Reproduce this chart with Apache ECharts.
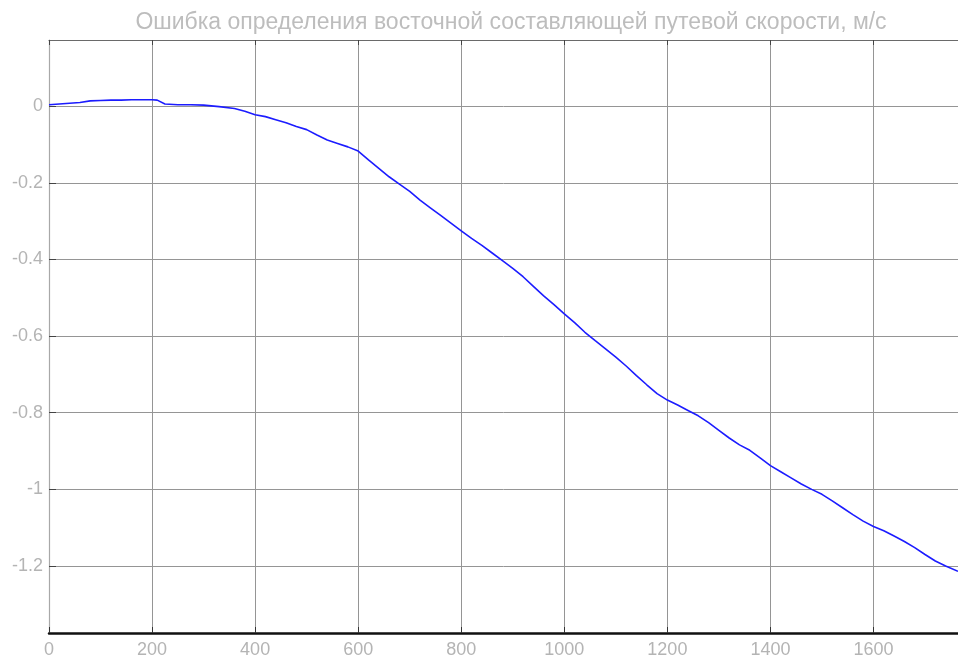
<!DOCTYPE html>
<html>
<head>
<meta charset="utf-8">
<script src="https://cdn.jsdelivr.net/npm/echarts@6/dist/echarts.min.js"></script>
<style>
  html, body { margin: 0; padding: 0; background: #ffffff; }
  #chart { width: 958px; height: 659px; }
</style>
</head>
<body>
<div id="chart"></div>
<script>
// Time, s
const timeSec = [
  0, 20, 40, 60, 80, 100, 120, 140, 160, 180, 200, 210, 225, 250, 275, 300, 330, 360, 380,
  400, 420, 440, 460, 480, 500, 520, 540, 560, 580, 600, 620, 640, 660, 680, 700, 720, 740,
  760, 780, 800, 820, 840, 860, 880, 900, 920, 940, 960, 980, 1000, 1020, 1040, 1060, 1080,
  1100, 1120, 1140, 1160, 1180, 1200, 1220, 1240, 1260, 1280, 1300, 1320, 1340, 1360, 1380,
  1400, 1420, 1440, 1460, 1480, 1500, 1520, 1540, 1560, 1580, 1600, 1620, 1640, 1660, 1680,
  1700, 1720, 1740, 1764
];
// East ground-speed component error, m/s
const eastError = [
  0.004, 0.006, 0.008, 0.010, 0.014, 0.015, 0.016, 0.016, 0.017, 0.017, 0.017, 0.016, 0.006,
  0.004, 0.004, 0.003, -0.001, -0.006, -0.013, -0.022, -0.027, -0.035, -0.043, -0.053, -0.061,
  -0.075, -0.088, -0.097, -0.106, -0.117, -0.140, -0.162, -0.184, -0.203, -0.222, -0.245,
  -0.265, -0.285, -0.305, -0.325, -0.345, -0.363, -0.383, -0.403, -0.423, -0.445, -0.470,
  -0.495, -0.518, -0.542, -0.565, -0.590, -0.612, -0.633, -0.655, -0.678, -0.703, -0.727,
  -0.750, -0.767, -0.780, -0.794, -0.808, -0.826, -0.846, -0.866, -0.884, -0.898, -0.918,
  -0.938, -0.954, -0.970, -0.986, -1.000, -1.013, -1.030, -1.048, -1.066, -1.083, -1.097,
  -1.108, -1.122, -1.136, -1.152, -1.170, -1.187, -1.200, -1.214
];
const xTicks = [0, 200, 400, 600, 800, 1000, 1200, 1400, 1600];
const yTicks = [-1.2, -1, -0.8, -0.6, -0.4, -0.2, 0];
const titleText = 'Ошибка определения восточной составляющей путевой скорости, м/с';

const X_MIN = 0, X_MAX = 1764;
const Y_MIN = -1.375, Y_MAX = 0.173;

const font = '"Liberation Sans", Arial, sans-serif';
const labelColor = '#b4b4b4';
const gridColor = '#959595';

const chart = echarts.init(document.getElementById('chart'), null, { renderer: 'canvas' });
chart.setOption({
  animation: false,
  backgroundColor: '#ffffff',
  title: {
    text: titleText,
    left: 506,
    textAlign: 'center',
    top: 6,
    textStyle: { color: '#bdbdbd', fontFamily: font, fontSize: 23, fontWeight: 'normal' }
  },
  grid: { left: 49, top: 40, right: 0, bottom: 26, containLabel: false },
  xAxis: [
    {
      type: 'value', min: X_MIN, max: X_MAX, position: 'bottom',
      axisLine: { show: true, onZero: false, lineStyle: { color: '#111111', width: 2.5 } },
      axisTick: { show: true, inside: true, length: 6, customValues: xTicks,
                  lineStyle: { color: '#333333', width: 1 } },
      axisLabel: { customValues: xTicks, formatter: v => String(v),
                   color: labelColor, fontFamily: font, fontSize: 18, margin: 8 },
      splitLine: { show: true, lineStyle: { color: gridColor, width: 1 } }
    },
    {
      type: 'value', min: X_MIN, max: X_MAX, position: 'top',
      axisLine: { show: true, onZero: false, lineStyle: { color: '#6a6a6a', width: 1.2 } },
      axisTick: { show: true, inside: true, length: 5, customValues: xTicks,
                  lineStyle: { color: '#444444', width: 1 } },
      axisLabel: { show: false },
      splitLine: { show: false }
    }
  ],
  yAxis: {
    type: 'value', min: Y_MIN, max: Y_MAX, position: 'left',
    axisLine: { show: true, onZero: false, lineStyle: { color: '#a8a8a8', width: 1.2 } },
    axisTick: { show: true, inside: true, length: 7, customValues: yTicks,
                lineStyle: { color: '#444444', width: 1 } },
    axisLabel: { customValues: yTicks, formatter: v => String(v),
                 color: labelColor, fontFamily: font, fontSize: 18, margin: 6 },
    splitLine: { show: true, lineStyle: { color: gridColor, width: 1 } }
  },
  series: [{
    type: 'line',
    xAxisIndex: 0,
    data: timeSec.map((t, i) => [t, eastError[i]]),
    showSymbol: false,
    smooth: false,
    lineStyle: { color: '#1c1cff', width: 1.6 },
    z: 5
  }]
});
</script>
</body>
</html>
